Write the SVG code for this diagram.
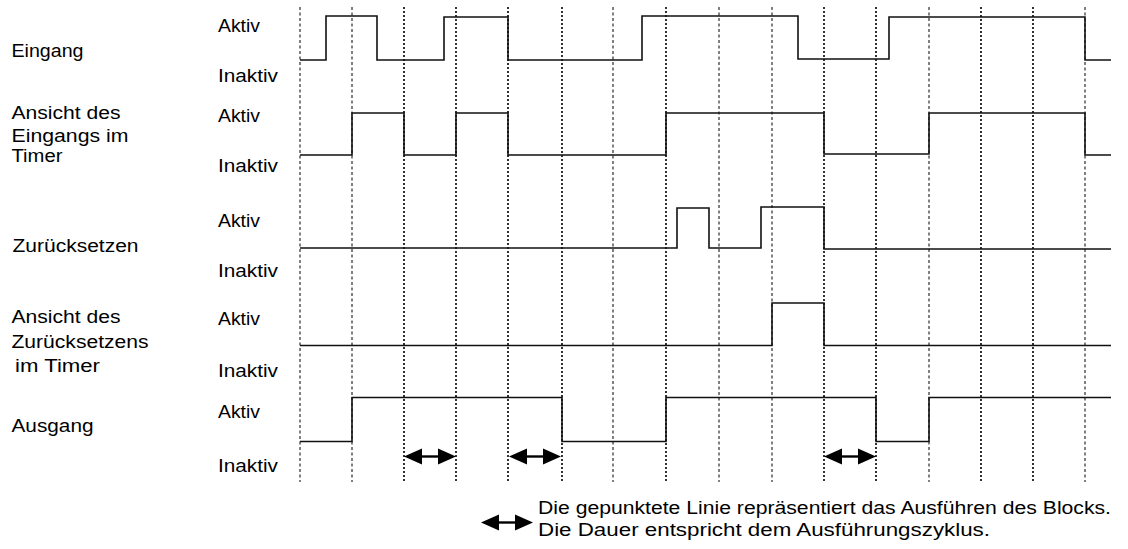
<svg xmlns="http://www.w3.org/2000/svg" width="1128" height="549" viewBox="0 0 1128 549">
<style>
text{font-family:"Liberation Sans",Arial,sans-serif;font-size:17.5px;fill:#000}
.grid-thin{stroke:#000;stroke-width:1;stroke-dasharray:3 2.5;fill:none}
.grid-thick{stroke:#000;stroke-width:1.6;stroke-dasharray:2 2;fill:none}
.sig{stroke:#111;stroke-width:1.6;fill:none;stroke-linejoin:miter}
.arr{stroke:#000;stroke-width:2.4;fill:none}
.head{fill:#000;stroke:none}
</style>
<defs>
<g id="dbl">
<path class="head" d="M0,0 L18,-8 L18,8 Z"/>
<path class="head" d="M52,0 L34,-8 L34,8 Z"/>
<line class="arr" x1="16" y1="0" x2="36" y2="0"/>
</g>
</defs>
<g id="grid">
<line class="grid-thin" x1="300" y1="7" x2="300" y2="482"/>
<line class="grid-thin" x1="352" y1="7" x2="352" y2="482"/>
<line class="grid-thick" x1="404" y1="7" x2="404" y2="482"/>
<line class="grid-thick" x1="456" y1="7" x2="456" y2="482"/>
<line class="grid-thick" x1="508" y1="7" x2="508" y2="482"/>
<line class="grid-thick" x1="562" y1="7" x2="562" y2="482"/>
<line class="grid-thin" x1="613" y1="7" x2="613" y2="482"/>
<line class="grid-thick" x1="666" y1="7" x2="666" y2="482"/>
<line class="grid-thin" x1="719" y1="7" x2="719" y2="482"/>
<line class="grid-thin" x1="772" y1="7" x2="772" y2="482"/>
<line class="grid-thick" x1="824" y1="7" x2="824" y2="482"/>
<line class="grid-thick" x1="876" y1="7" x2="876" y2="482"/>
<line class="grid-thin" x1="929" y1="7" x2="929" y2="482"/>
<line class="grid-thick" x1="981" y1="7" x2="981" y2="482"/>
<line class="grid-thick" x1="1033" y1="7" x2="1033" y2="482"/>
<line class="grid-thin" x1="1085" y1="7" x2="1085" y2="482"/>
</g>
<g id="eingang">
<text x="11.5" y="57" textLength="72" lengthAdjust="spacingAndGlyphs">Eingang</text>
<text x="218" y="31.5" textLength="42" lengthAdjust="spacingAndGlyphs">Aktiv</text>
<text x="218" y="82" textLength="60" lengthAdjust="spacingAndGlyphs">Inaktiv</text>
<path class="sig" d="M300,60 H326 V16 H377 V60 H444 V17 H508 V60 H642 V16 H798 V59 H889 V17 H1085 V60 H1111"/>
</g>
<g id="ansicht-eingang">
<text x="11.5" y="119" textLength="109" lengthAdjust="spacingAndGlyphs">Ansicht des</text>
<text x="11.5" y="141.5" textLength="117" lengthAdjust="spacingAndGlyphs">Eingangs im</text>
<text x="11.5" y="162" textLength="51" lengthAdjust="spacingAndGlyphs">Timer</text>
<text x="218" y="121.5" textLength="42" lengthAdjust="spacingAndGlyphs">Aktiv</text>
<text x="218" y="172" textLength="60" lengthAdjust="spacingAndGlyphs">Inaktiv</text>
<path class="sig" d="M300,155 H352 V113 H404 V155 H456 V113 H508 V155 H666 V113 H824 V154 H929 V113 H1085 V155 H1111"/>
</g>
<g id="zuruecksetzen">
<text x="12.5" y="251.5" textLength="126" lengthAdjust="spacingAndGlyphs">Zurücksetzen</text>
<text x="218" y="226.5" textLength="42" lengthAdjust="spacingAndGlyphs">Aktiv</text>
<text x="218" y="276.5" textLength="60" lengthAdjust="spacingAndGlyphs">Inaktiv</text>
<path class="sig" d="M300,248 H677 V208 H709 V248 H761 V207 H824 V249 H1111"/>
</g>
<g id="ansicht-zuruecksetzen">
<text x="11.5" y="323" textLength="109" lengthAdjust="spacingAndGlyphs">Ansicht des</text>
<text x="11.5" y="348" textLength="137" lengthAdjust="spacingAndGlyphs">Zurücksetzens</text>
<text x="15" y="372" textLength="85" lengthAdjust="spacingAndGlyphs">im Timer</text>
<text x="218" y="325" textLength="42" lengthAdjust="spacingAndGlyphs">Aktiv</text>
<text x="218" y="376.5" textLength="60" lengthAdjust="spacingAndGlyphs">Inaktiv</text>
<path class="sig" d="M300,345.5 H772 V303 H824 V345.5 H1111"/>
</g>
<g id="ausgang">
<text x="11.5" y="431.5" textLength="82" lengthAdjust="spacingAndGlyphs">Ausgang</text>
<text x="218" y="418" textLength="42" lengthAdjust="spacingAndGlyphs">Aktiv</text>
<text x="218" y="471.5" textLength="60" lengthAdjust="spacingAndGlyphs">Inaktiv</text>
<path class="sig" d="M300,441.5 H352 V397.5 H562 V441.5 H666 V397.5 H876 V441.5 H929 V397.5 H1111"/>
</g>
<g id="connectors">
<use href="#dbl" x="404" y="456.5"/>
<use href="#dbl" x="509" y="456.5"/>
<use href="#dbl" x="824" y="456.5"/>
</g>
<g id="legend">
<use href="#dbl" x="481" y="522.5"/>
<text x="538" y="514" textLength="573" lengthAdjust="spacingAndGlyphs">Die gepunktete Linie repräsentiert das Ausführen des Blocks.</text>
<text x="538" y="536" textLength="452" lengthAdjust="spacingAndGlyphs">Die Dauer entspricht dem Ausführungszyklus.</text>
</g>
</svg>
